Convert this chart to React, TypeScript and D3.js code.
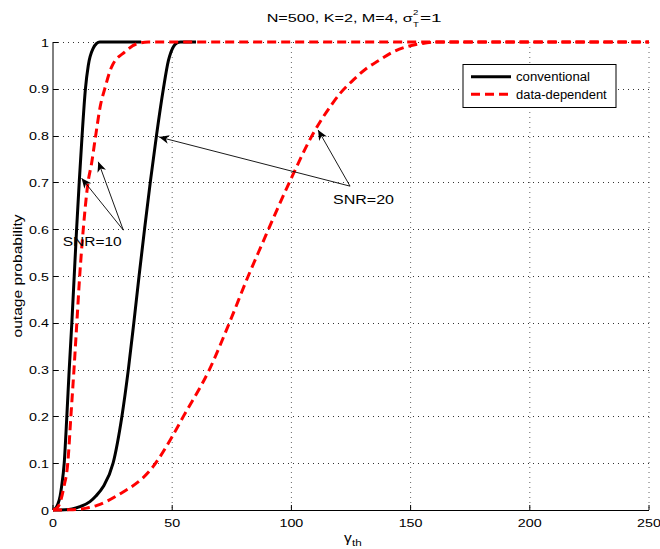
import React from "react";
import * as d3 from "d3";

// ---- data ----
const conv10Gamma = [0, 1, 2, 3, 3.6, 4.7, 5.8, 6.8, 7.9, 8.9, 9.9, 11.0, 12.2, 13.6, 14.8, 16.9, 18.3, 19.6, 37];
const conv10Prob = [0, 0.003, 0.012, 0.03, 0.05, 0.1, 0.2, 0.3, 0.4, 0.5, 0.6, 0.7, 0.8, 0.9, 0.95, 0.987, 0.997, 1, 1];

const conv20Gamma = [0, 5, 8, 11.3, 15.5, 18, 21.1, 25.2, 28.9, 31.6, 33.9, 36.1, 38.4, 40.8, 43.4, 46.3, 48.4, 50.5, 52, 53.5, 60];
const conv20Prob = [0, 0.0005, 0.002, 0.007, 0.018, 0.03, 0.05, 0.1, 0.2, 0.3, 0.4, 0.5, 0.6, 0.7, 0.8, 0.9, 0.96, 0.99, 0.998, 1, 1];

const dd10Gamma = [0, 1, 2.5, 4.6, 6.2, 7.5, 8.8, 10.0, 11.2, 12.7, 14.7, 16.2, 17.9, 19.8, 21.7, 24.6, 30.2, 35.1, 40, 250];
const dd10Prob = [0, 0.002, 0.01, 0.05, 0.1, 0.2, 0.3, 0.4, 0.5, 0.6, 0.7, 0.741, 0.8, 0.862, 0.9, 0.947, 0.979, 0.996, 1, 1];

const dd20Gamma = [0, 7, 14, 18.5, 27.3, 41.9, 49.9, 54.7, 65.6, 74, 81.9, 87.5, 99.6, 109.2, 116.7, 120.4, 126, 131.6, 136.5, 142, 148.4, 155, 162, 250];
const dd20Prob = [0, 0.0005, 0.004, 0.01, 0.032, 0.092, 0.156, 0.2, 0.3, 0.4, 0.5, 0.566, 0.705, 0.805, 0.865, 0.89, 0.919, 0.944, 0.96, 0.977, 0.99, 0.997, 1, 1];

const xTicks = [0, 50, 100, 150, 200, 250];
const yTicks = [0, 0.1, 0.2, 0.3, 0.4, 0.5, 0.6, 0.7, 0.8, 0.9, 1];
const yTickLabels = ["0", "0.1", "0.2", "0.3", "0.4", "0.5", "0.6", "0.7", "0.8", "0.9", "1"];

const legendLabels = ["conventional", "data-dependent"];

const snr10Label = "SNR=10";
const snr10Tail = [29.5, 0.598];
const snr10Tips = [[12.0, 0.709], [19.0, 0.744]];
const snr20Label = "SNR=20";
const snr20Tail = [124.6, 0.692];
const snr20Tips = [[44.5, 0.797], [111.2, 0.812]];

// ---- layout ----
const W = 660, H = 549;
const left = 53, right = 649, top = 42, bottom = 510;
const FONT = "'Liberation Sans', Arial, Helvetica, sans-serif";
const SX = 1.3;

const x = d3.scaleLinear().domain([0, 250]).range([left, right]);
const y = d3.scaleLinear().domain([0, 1]).range([bottom, top]);

const zip = (g: number[], p: number[]) => g.map((v, i) => [v, p[i]] as [number, number]);
const line = d3.line<[number, number]>().x(d => x(d[0])).y(d => y(d[1])).curve(d3.curveMonotoneX);

function T({ x: tx, y: ty, children, size = 12, anchor = "start", rotate = 0, sx = SX }: any) {
  return (
    <text
      transform={`translate(${tx},${ty}) rotate(${rotate}) scale(${sx},1)`}
      fontFamily={FONT}
      fontSize={size}
      textAnchor={anchor}
      fill="#000"
    >
      {children}
    </text>
  );
}

// text fitted to a measured width
function TL({ x: tx, y: ty, children, size = 12, len }: any) {
  return (
    <text x={tx} y={ty} fontFamily={FONT} fontSize={size} textLength={len} lengthAdjust="spacingAndGlyphs" fill="#000">
      {children}
    </text>
  );
}

function Arrow({ from, to }: { from: number[]; to: number[] }) {
  const x1 = x(from[0]), y1 = y(from[1]), x2 = x(to[0]), y2 = y(to[1]);
  const ang = (Math.atan2(y2 - y1, x2 - x1) * 180) / Math.PI;
  return (
    <g>
      <line x1={x1} y1={y1} x2={x2} y2={y2} stroke="#000" strokeWidth={0.9} />
      <path d="M0,0 L-10,-4.5 L-7,0 L-10,4.5 Z" transform={`translate(${x2},${y2}) rotate(${ang})`} fill="#000" />
    </g>
  );
}

export default function App() {
  const series = [
    { d: zip(conv10Gamma, conv10Prob), color: "#000", dash: undefined },
    { d: zip(conv20Gamma, conv20Prob), color: "#000", dash: undefined },
    { d: zip(dd10Gamma, dd10Prob), color: "#ff0000", dash: "9,5" },
    { d: zip(dd20Gamma, dd20Prob), color: "#ff0000", dash: "9,5" },
  ];
  return (
    <svg width={W} height={H} style={{ position: "absolute", left: 0, top: 0, background: "#fff" }}>
      <rect x={0} y={0} width={W} height={H} fill="#fff" />
      {/* grid */}
      {xTicks.slice(1).map(t => (
        <line key={"gx" + t} x1={x(t)} x2={x(t)} y1={top} y2={bottom} stroke="#666" strokeWidth={1} strokeDasharray="1,4" />
      ))}
      {yTicks.slice(1).map(t => (
        <line key={"gy" + t} x1={left} x2={right} y1={Math.round(y(t)) + 0.5} y2={Math.round(y(t)) + 0.5} stroke="#333" strokeWidth={1} strokeDasharray="1,4" />
      ))}
      {/* axes */}
      <line x1={left} x2={left} y1={top} y2={bottom} stroke="#000" strokeWidth={1} />
      <line x1={left} x2={right} y1={bottom + 0.5} y2={bottom + 0.5} stroke="#000" strokeWidth={1} />
      {xTicks.map(t => (
        <line key={"tx" + t} x1={x(t)} x2={x(t)} y1={bottom} y2={bottom - 5} stroke="#000" strokeWidth={1} />
      ))}
      {yTicks.map(t => (
        <line key={"ty" + t} x1={left} x2={left + 5} y1={Math.round(y(t)) + 0.5} y2={Math.round(y(t)) + 0.5} stroke="#000" strokeWidth={1} />
      ))}
      {/* tick labels */}
      {yTicks.map((t, i) => (
        <T key={"ly" + t} x={49} y={y(t) + 4.5} anchor="end" size={11}>{yTickLabels[i]}</T>
      ))}
      {xTicks.map(t => (
        <T key={"lx" + t} x={x(t)} y={527} anchor="middle" size={11}>{String(t)}</T>
      ))}
      {/* curves */}
      {series.map((s, i) => (
        <path key={i} d={line(s.d) || ""} fill="none" stroke={s.color} strokeWidth={3} strokeDasharray={s.dash} strokeLinejoin="round" />
      ))}
      {/* axis labels */}
      <T x={22} y={276} anchor="middle" rotate={-90} size={12}>outage probability</T>
      <g>
        <T x={344} y={542} size={12}>γ</T>
        <T x={352} y={546} size={9}>th</T>
      </g>
      {/* title */}
      <TL x={266.7} y={21.7} size={11.6} len={146}>N=500, K=2, M=4, σ</TL>
      <T x={413} y={15} size={8} sx={1.2}>2</T>
      <T x={413} y={26.5} size={8} sx={1.2}>T</T>
      <TL x={420} y={21.7} size={11.6} len={21.7}>=1</TL>
      {/* legend */}
      <rect x={463} y={64.5} width={153} height={43} fill="#fff" stroke="#000" strokeWidth={1} />
      <line x1={471} x2={511} y1={76.7} y2={76.7} stroke="#000" strokeWidth={3} />
      <line x1={471} x2={511} y1={94.3} y2={94.3} stroke="#ff0000" strokeWidth={3} strokeDasharray="9,5" />
      <TL x={516} y={81} size={12} len={74}>{legendLabels[0]}</TL>
      <TL x={516} y={98.6} size={12} len={90.7}>{legendLabels[1]}</TL>
      {/* annotations */}
      {snr10Tips.map((tp, i) => <Arrow key={"a10" + i} from={snr10Tail} to={tp} />)}
      {snr20Tips.map((tp, i) => <Arrow key={"a20" + i} from={snr20Tail} to={tp} />)}
      <TL x={62.7} y={246} size={12.5} len={59}>{snr10Label}</TL>
      <TL x={333} y={204} size={12.5} len={61}>{snr20Label}</TL>
    </svg>
  );
}
